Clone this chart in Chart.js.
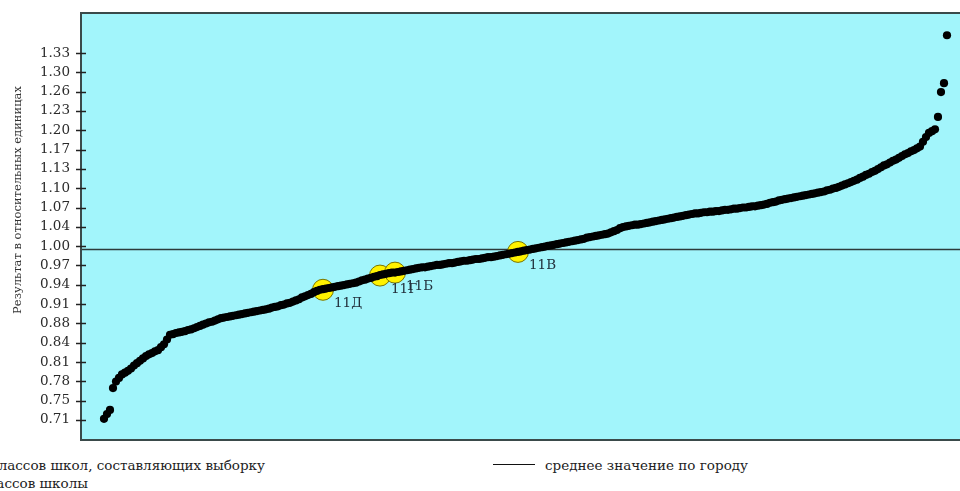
<!DOCTYPE html>
<html lang="ru">
<head>
<meta charset="utf-8">
<title>Результаты классов</title>
<script src="https://cdn.jsdelivr.net/npm/chart.js@4.4.1/dist/chart.umd.min.js"></script>
<style>
    html, body { margin: 0; padding: 0; background: #fff; }
    #page { position: relative; width: 960px; height: 491px; overflow: hidden; }
    #chart-wrap { position: absolute; left: 0; top: 0; width: 1000px; height: 441px; }
    .legend { position: absolute; font-family: "DejaVu Serif", "Liberation Serif", serif; font-size: 13.5px; color: #222; white-space: nowrap; line-height: 16px; }
    #mean-key { position: absolute; left: 493px; top: 464px; width: 42px; border-top: 1.5px solid #111; }
</style>
</head>
<body>
<div id="page">
    <div id="chart-wrap"><canvas id="results-chart" width="1000" height="441"></canvas></div>
    <div class="legend" style="right: 695px; top: 457px;">Результаты классов школ, составляющих выборку</div>
    <div class="legend" style="right: 872px; top: 475px;">Результаты классов школы</div>
    <div id="mean-key"></div>
    <div class="legend" style="left: 545px; top: 457px;">среднее значение по городу</div>
</div>
<script>
// --- DATA ---
const TICK_LABELS = ['0.71', '0.75', '0.78', '0.81', '0.84', '0.88', '0.91', '0.94', '0.97', '1.00',
                     '1.04', '1.07', '1.10', '1.13', '1.17', '1.20', '1.23', '1.26', '1.30', '1.33'];
const TICK_START = 0.71;
const TICK_END = 1.33;
const CITY_MEAN = 0.998;
const Y_TITLE = 'Результат в относительных единицах';

// results of all classes in the sample, sorted ascending (one per rank)
const SAMPLE_RESULTS = [
    0.712, 0.720, 0.727, 0.764, 0.775, 0.781, 0.787, 0.790, 0.793, 0.797,
    0.802, 0.806, 0.810, 0.814, 0.818, 0.821, 0.823, 0.826, 0.828, 0.833,
    0.838, 0.846, 0.854, 0.855, 0.857, 0.858, 0.859, 0.860, 0.862, 0.863,
    0.865, 0.867, 0.869, 0.871, 0.873, 0.875, 0.876, 0.878, 0.880, 0.882,
    0.883, 0.884, 0.885, 0.886, 0.887, 0.888, 0.889, 0.890, 0.891, 0.892,
    0.893, 0.894, 0.895, 0.896, 0.897, 0.898, 0.900, 0.901, 0.902, 0.904,
    0.905, 0.907, 0.908, 0.910, 0.912, 0.914, 0.917, 0.919, 0.921, 0.923,
    0.926, 0.928, 0.930, 0.931, 0.932, 0.933, 0.934, 0.935, 0.936, 0.937,
    0.938, 0.939, 0.940, 0.941, 0.942, 0.944, 0.946, 0.947, 0.949, 0.950,
    0.952, 0.953, 0.955, 0.956, 0.957, 0.958, 0.959, 0.959, 0.960, 0.961,
    0.962, 0.963, 0.964, 0.965, 0.966, 0.967, 0.968, 0.968, 0.969, 0.970,
    0.971, 0.972, 0.972, 0.973, 0.974, 0.975, 0.975, 0.976, 0.977, 0.978,
    0.979, 0.979, 0.980, 0.981, 0.982, 0.982, 0.983, 0.984, 0.985, 0.985,
    0.986, 0.987, 0.988, 0.989, 0.990, 0.991, 0.992, 0.993, 0.994, 0.995,
    0.996, 0.997, 0.998, 0.999, 1.000, 1.001, 1.002, 1.003, 1.004, 1.005,
    1.006, 1.007, 1.008, 1.009, 1.010, 1.011, 1.012, 1.013, 1.014, 1.015,
    1.016, 1.018, 1.019, 1.020, 1.021, 1.022, 1.023, 1.024, 1.025, 1.027,
    1.029, 1.031, 1.034, 1.036, 1.037, 1.038, 1.039, 1.040, 1.040, 1.041,
    1.042, 1.043, 1.044, 1.045, 1.046, 1.047, 1.048, 1.049, 1.050, 1.051,
    1.052, 1.053, 1.054, 1.055, 1.056, 1.057, 1.058, 1.059, 1.059, 1.060,
    1.061, 1.061, 1.062, 1.062, 1.063, 1.063, 1.064, 1.065, 1.065, 1.066,
    1.067, 1.067, 1.068, 1.069, 1.069, 1.070, 1.071, 1.071, 1.072, 1.073,
    1.074, 1.075, 1.077, 1.078, 1.079, 1.081, 1.082, 1.083, 1.084, 1.085,
    1.086, 1.087, 1.088, 1.089, 1.090, 1.091, 1.092, 1.093, 1.094, 1.095,
    1.096, 1.098, 1.099, 1.101, 1.102, 1.104, 1.106, 1.108, 1.110, 1.112,
    1.114, 1.116, 1.119, 1.121, 1.124, 1.126, 1.129, 1.131, 1.134, 1.137,
    1.140, 1.142, 1.145, 1.148, 1.150, 1.153, 1.156, 1.159, 1.161, 1.164,
    1.166, 1.169, 1.172, 1.180, 1.188, 1.195, 1.198, 1.201, 1.222, 1.264,
    1.279, 1.360
];

// classes of this school: name, rank in the sorted sample, result
const SCHOOL_CLASSES = ['11Д', '11Г', '11Б', '11В'];
const SCHOOL_RANKS = [73, 92, 97, 138];
const SCHOOL_RESULTS = [0.930, 0.954, 0.959, 0.994];

// --- STYLE ---
const SERIF = '"DejaVu Serif", "Liberation Serif", serif';
const AREA_BG = '#a2f5fb';
const FRAME_COLOR = '#3a4a4a';

const canvas = document.getElementById('results-chart');

/**
 * Draws the cyan plot area, the frame, tick marks, the mean line and the labels.
 */
const framePlugin = {
    id: 'frame',
    beforeDraw(chart) {
        const { ctx, chartArea: a } = chart;
        ctx.save();
        ctx.fillStyle = AREA_BG;
        ctx.fillRect(a.left, a.top, a.right - a.left, a.bottom - a.top);
        ctx.restore();
    },
    beforeDatasetsDraw(chart) {
        const { ctx, chartArea: a, scales } = chart;
        const y = scales.y.getPixelForValue(CITY_MEAN);
        ctx.save();
        ctx.strokeStyle = '#2d3a3a';
        ctx.lineWidth = 1.5;
        ctx.beginPath();
        ctx.moveTo(a.left, y);
        ctx.lineTo(a.right, y);
        ctx.stroke();
        ctx.restore();
    },
    afterDraw(chart) {
        const { ctx, chartArea: a, scales } = chart;
        ctx.save();
        // frame
        ctx.strokeStyle = FRAME_COLOR;
        ctx.lineWidth = 2;
        ctx.beginPath();
        ctx.moveTo(a.right + 5, a.top);
        ctx.lineTo(a.left, a.top);
        ctx.lineTo(a.left, a.bottom);
        ctx.lineTo(a.right + 5, a.bottom);
        ctx.stroke();

        // tick marks crossing the axis
        ctx.strokeStyle = '#222';
        ctx.lineWidth = 1.5;
        scales.y.ticks.forEach(t => {
            const y = Math.round(scales.y.getPixelForValue(t.value)) + 0.5;
            ctx.beginPath();
            ctx.moveTo(a.left - 5, y);
            ctx.lineTo(a.left + 5, y);
            ctx.stroke();
        });

        // axis title
        ctx.fillStyle = '#333';
        ctx.font = '11.5px ' + SERIF;
        ctx.textAlign = 'center';
        ctx.textBaseline = 'middle';
        ctx.translate(18, 200);
        ctx.rotate(-Math.PI / 2);
        ctx.fillText(Y_TITLE, 0, 0);
        ctx.restore();

        // class labels next to the yellow points
        ctx.save();
        ctx.fillStyle = '#22303c';
        ctx.font = '13.5px ' + SERIF;
        ctx.textAlign = 'left';
        ctx.textBaseline = 'middle';
        chart.getDatasetMeta(1).data.forEach((pt, i) => {
            ctx.fillText(SCHOOL_CLASSES[i], pt.x + 11, pt.y + 14);
        });
        ctx.restore();
    }
};

const resultsChart = new Chart(canvas, {
    type: 'scatter',
    data: {
        datasets: [{
            label: 'Результаты классов школ, составляющих выборку',
            data: SAMPLE_RESULTS.map((v, i) => ({ x: i, y: v })),
            backgroundColor: '#000',
            borderColor: '#000',
            borderWidth: 0,
            pointRadius: 4.1,
            pointHoverRadius: 4.1
        }, {
            label: 'Результаты классов школы',
            data: SCHOOL_RANKS.map((r, i) => ({ x: r, y: SCHOOL_RESULTS[i] })),
            backgroundColor: '#fff200',
            borderColor: '#7a7400',
            borderWidth: 1,
            pointRadius: 10.5,
            pointHoverRadius: 10.5
        }]
    },
    options: {
        responsive: false,
        animation: false,
        devicePixelRatio: 1,
        layout: { autoPadding: false, padding: { top: 13, bottom: 1, left: 0, right: 0 } },
        plugins: {
            legend: { display: false },
            tooltip: { enabled: false }
        },
        scales: {
            x: {
                type: 'linear',
                display: false,
                min: -7.667,
                max: 298.67
            },
            y: {
                type: 'linear',
                min: 0.6762,
                max: 1.3976,
                grid: { display: false, drawTicks: false },
                border: { display: false },
                afterFit: s => {
                    // fixed axis width, no extra room for the end labels
                    s.width = 81;
                    s.paddingTop = 0;
                    s.paddingBottom = 0;
                },
                afterBuildTicks: s => {
                    const step = (TICK_END - TICK_START) / (TICK_LABELS.length - 1);
                    s.ticks = TICK_LABELS.map((_, i) => ({ value: TICK_START + i * step }));
                },
                ticks: {
                    padding: 11,
                    color: '#2b2b2b',
                    font: { family: SERIF, size: 13.5 },
                    callback: (v, i) => TICK_LABELS[i]
                }
            }
        }
    },
    plugins: [framePlugin]
});
</script>
</body>
</html>
